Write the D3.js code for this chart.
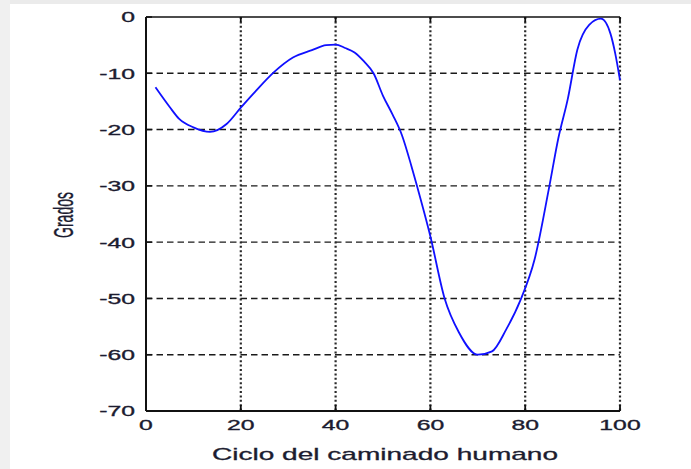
<!DOCTYPE html>
<html>
<head>
<meta charset="utf-8">
<script src="https://cdn.jsdelivr.net/npm/d3@7"></script>
<style>
  html, body { margin: 0; padding: 0; background: #fff; }
  svg { display: block; }
</style>
</head>
<body>
<div id="chart"></div>
<script>
// gait cycle (%) and angle (degrees)
const ciclo = [2, 5, 7, 10, 13.5, 17, 20, 23, 27, 31, 35, 38, 40, 42, 44, 46, 48, 50, 52, 54, 56, 57,
  60, 63, 66, 70, 73, 76, 79, 82, 85, 87, 89, 91, 93.5, 96, 98, 99, 100];
const grados = [-12.5, -16.0, -18.1, -19.6, -20.4, -19.0, -16.1, -13.3, -9.8, -7.2, -5.9, -5.0, -4.9, -5.5,
  -6.3, -7.9, -10, -14.0, -17.3, -21, -26.5, -29.5, -39, -50, -56, -60, -59.4, -55.5, -50.3, -43, -30.5,
  -21.5, -14.5, -5.8, -1.4, -0.3, -3.0, -6.5, -11.2];
const xTicks = [0, 20, 40, 60, 80, 100];
const yTicks = [0, -10, -20, -30, -40, -50, -60, -70];

const width = 691, height = 469;
const margin = { left: 146, right: 71, top: 17, bottom: 58 };
const stretch = 1.65; // the picture's text is wide

const svg = d3.select("#chart").append("svg")
  .attr("width", width)
  .attr("height", height);

// window frame bits
svg.append("rect").attr("x", 0).attr("y", 0).attr("width", width).attr("height", 4).attr("fill", "#ebebeb");
svg.append("rect").attr("x", 0).attr("y", 0).attr("width", 10).attr("height", height).attr("fill", "#f0f0f0");

const x = d3.scaleLinear().domain([0, 100]).range([margin.left, width - margin.right]);
const y = d3.scaleLinear().domain([-70, 0]).range([height - margin.bottom, margin.top]);

const textColor = "#1c1c30";
const font = "Arial, 'Liberation Sans', sans-serif";

// horizontal dashed grid
svg.append("g")
  .selectAll("line")
  .data(yTicks.filter((d) => d > -70 && d < 0))
  .join("line")
  .attr("x1", x(0))
  .attr("x2", x(100))
  .attr("y1", (d) => y(d))
  .attr("y2", (d) => y(d))
  .attr("stroke", "#1a1a1a")
  .attr("stroke-width", 1.4)
  .attr("stroke-dasharray", "6.5,4");

// vertical dotted grid
svg.append("g")
  .selectAll("line")
  .data(xTicks.filter((d) => d > 0))
  .join("line")
  .attr("x1", (d) => x(d))
  .attr("x2", (d) => x(d))
  .attr("y1", y(0))
  .attr("y2", y(-70))
  .attr("stroke", "#2a2a2a")
  .attr("stroke-width", 2.2)
  .attr("stroke-dasharray", "2,2.4");

// inward tick marks
svg.append("g")
  .selectAll("line")
  .data(xTicks)
  .join("line")
  .attr("x1", (d) => x(d))
  .attr("x2", (d) => x(d))
  .attr("y1", y(-70))
  .attr("y2", y(-70) - 6)
  .attr("stroke", "#111")
  .attr("stroke-width", 1.8);
svg.append("g")
  .selectAll("line")
  .data(xTicks)
  .join("line")
  .attr("x1", (d) => x(d))
  .attr("x2", (d) => x(d))
  .attr("y1", y(0))
  .attr("y2", y(0) + 5)
  .attr("stroke", "#111")
  .attr("stroke-width", 1.8);
svg.append("g")
  .selectAll("line")
  .data(yTicks)
  .join("line")
  .attr("x1", x(0))
  .attr("x2", x(0) + 6)
  .attr("y1", (d) => y(d))
  .attr("y2", (d) => y(d))
  .attr("stroke", "#111")
  .attr("stroke-width", 1.5);

// axes lines: left, bottom, top
svg.append("line").attr("x1", x(0)).attr("x2", x(0)).attr("y1", y(0)).attr("y2", y(-70))
  .attr("stroke", "#111").attr("stroke-width", 2);
svg.append("line").attr("x1", x(0)).attr("x2", x(100)).attr("y1", y(-70)).attr("y2", y(-70))
  .attr("stroke", "#111").attr("stroke-width", 2);
svg.append("line").attr("x1", x(0)).attr("x2", x(100)).attr("y1", y(0)).attr("y2", y(0))
  .attr("stroke", "#111").attr("stroke-width", 1.6);

// curve
const line = d3.line()
  .x((d) => x(d[0]))
  .y((d) => y(d[1]))
  .curve(d3.curveMonotoneX);

svg.append("path")
  .datum(ciclo.map((c, i) => [c, grados[i]]))
  .attr("d", line)
  .attr("fill", "none")
  .attr("stroke", "#1010ff")
  .attr("stroke-width", 1.8);

// tick labels
svg.append("g")
  .selectAll("g")
  .data(yTicks)
  .join("g")
  .attr("transform", (d) => `translate(135,${y(d)}) scale(${stretch},1)`)
  .append("text")
  .attr("text-anchor", "end")
  .attr("dy", "0.36em")
  .attr("font-family", font)
  .attr("font-size", 15)
  .attr("fill", textColor)
  .attr("stroke", textColor)
  .attr("stroke-width", 0.35)
  .text((d) => d);

svg.append("g")
  .selectAll("g")
  .data(xTicks)
  .join("g")
  .attr("transform", (d) => `translate(${x(d)},430) scale(${stretch},1)`)
  .append("text")
  .attr("text-anchor", "middle")
  .attr("font-family", font)
  .attr("font-size", 15)
  .attr("fill", textColor)
  .attr("stroke", textColor)
  .attr("stroke-width", 0.35)
  .text((d) => d);

// axis titles
svg.append("g")
  .attr("transform", `translate(385,460) scale(${stretch},1)`)
  .append("text")
  .attr("text-anchor", "middle")
  .attr("font-family", font)
  .attr("font-size", 17)
  .attr("fill", textColor)
  .attr("stroke", textColor)
  .attr("stroke-width", 0.3)
  .text("Ciclo del caminado humano");

svg.append("g")
  .attr("transform", `translate(73,215) scale(1.75,1) rotate(-90)`)
  .append("text")
  .attr("text-anchor", "middle")
  .attr("textLength", 46)
  .attr("lengthAdjust", "spacingAndGlyphs")
  .attr("font-family", font)
  .attr("font-size", 16)
  .attr("fill", textColor)
  .attr("stroke", textColor)
  .attr("stroke-width", 0.2)
  .text("Grados");
</script>
</body>
</html>
